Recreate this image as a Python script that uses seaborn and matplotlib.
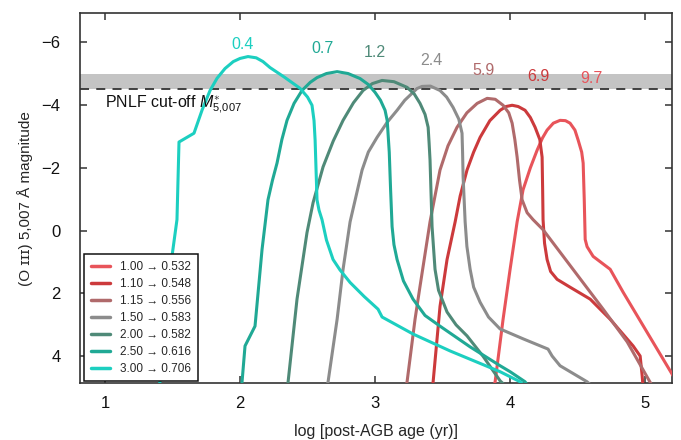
import numpy as np
import pandas as pd
import matplotlib
matplotlib.use("Agg")
import matplotlib.pyplot as plt
import seaborn as sns

# ---- data ----
labels = ["1.00 \u2192 0.532", "1.10 \u2192 0.548", "1.15 \u2192 0.556", "1.50 \u2192 0.583",
          "2.00 \u2192 0.582", "2.50 \u2192 0.616", "3.00 \u2192 0.706"]
colors = ["#e8545a", "#cc3a3c", "#b06a6b", "#8c8c8c", "#4f8a78", "#20a995", "#1ccfc0"]
top_labels = ["9.7", "6.9", "5.9", "2.4", "1.2", "0.7", "0.4"]
top_label_x = [4.60, 4.207, 3.80, 3.415, 3.00, 2.607, 2.022]
top_label_y = [-4.84, -4.91, -5.09, -5.41, -5.66, -5.79, -5.92]

x_100 = [3.875, 3.889, 3.948, 4.000, 4.052, 4.096, 4.150, 4.200, 4.240, 4.274, 4.320, 4.370, 4.410, 4.444, 4.480, 4.504, 4.530, 4.541, 4.549, 4.556, 4.570, 4.615, 4.741, 4.837, 5.207, 5.25]
y_100 = [5.0, 4.81, 2.82, 1.23, -0.28, -1.30, -2.00, -2.56, -2.95, -3.20, -3.42, -3.51, -3.50, -3.42, -3.20, -2.88, -2.50, -2.15, -1.00, 0.28, 0.51, 0.82, 1.23, 1.96, 4.62, 5.0]

x_110 = [3.420, 3.430, 3.481, 3.533, 3.593, 3.630, 3.681, 3.730, 3.778, 3.850, 3.926, 3.970, 4.015, 4.060, 4.111, 4.150, 4.185, 4.220, 4.237, 4.241, 4.244, 4.255, 4.274, 4.300, 4.348, 4.444, 4.593, 4.741, 4.911, 4.963, 4.978, 4.985]
y_110 = [5.0, 4.81, 2.41, 0.92, -0.28, -1.10, -1.93, -2.50, -2.97, -3.50, -3.83, -3.95, -3.99, -3.95, -3.83, -3.60, -3.29, -2.90, -2.34, -1.30, -0.35, 0.40, 0.92, 1.30, 1.55, 1.80, 2.18, 2.82, 3.67, 3.99, 4.62, 5.0]

x_115 = [3.225, 3.237, 3.296, 3.333, 3.407, 3.481, 3.540, 3.607, 3.680, 3.756, 3.830, 3.890, 3.948, 3.990, 4.015, 4.035, 4.052, 4.070, 4.089, 4.126, 4.170, 4.244, 4.689, 4.867, 5.052]
y_115 = [5.0, 4.81, 2.82, 1.77, -0.28, -1.93, -2.70, -3.29, -3.75, -4.05, -4.21, -4.18, -3.99, -3.75, -3.42, -2.90, -2.34, -1.60, -0.98, -0.57, -0.35, -0.03, 2.50, 3.54, 4.94]

x_150 = [2.640, 2.652, 2.719, 2.763, 2.815, 2.904, 2.950, 3.015, 3.090, 3.163, 3.220, 3.281, 3.310, 3.348, 3.410, 3.481, 3.530, 3.578, 3.620, 3.644, 3.648, 3.652, 3.667, 3.680, 3.704, 3.730, 3.778, 3.840, 3.926, 4.100, 4.281, 4.311, 4.370, 4.570, 4.62]
y_150 = [5.0, 4.81, 2.82, 1.23, -0.28, -1.93, -2.50, -2.97, -3.45, -3.83, -4.15, -4.40, -4.52, -4.59, -4.60, -4.46, -4.25, -3.92, -3.55, -3.10, -2.50, -1.71, -0.28, 0.50, 1.23, 1.80, 2.28, 2.75, 3.13, 3.45, 3.77, 3.99, 4.30, 4.81, 5.0]

x_200 = [2.350, 2.356, 2.422, 2.496, 2.541, 2.615, 2.690, 2.763, 2.840, 2.911, 2.980, 3.052, 3.140, 3.237, 3.290, 3.333, 3.370, 3.393, 3.400, 3.407, 3.422, 3.444, 3.470, 3.533, 3.600, 3.681, 3.800, 3.926, 3.98]
y_200 = [5.0, 4.81, 2.18, 0.06, -0.89, -2.03, -2.85, -3.51, -4.07, -4.46, -4.68, -4.78, -4.74, -4.56, -4.35, -4.05, -3.70, -3.29, -2.80, -2.25, -0.13, 1.23, 1.90, 2.59, 3.00, 3.35, 4.00, 4.78, 5.0]

x_250 = [2.010, 2.015, 2.037, 2.111, 2.163, 2.207, 2.240, 2.274, 2.310, 2.348, 2.400, 2.459, 2.520, 2.570, 2.640, 2.719, 2.800, 2.889, 2.950, 3.000, 3.040, 3.074, 3.090, 3.096, 3.105, 3.115, 3.126, 3.140, 3.163, 3.210, 3.281, 3.370, 3.481, 3.704, 3.926, 4.000, 4.111, 4.14]
y_250 = [5.0, 4.81, 3.67, 3.04, 0.60, -0.98, -1.60, -2.15, -2.90, -3.51, -4.05, -4.46, -4.72, -4.87, -5.00, -5.06, -5.00, -4.84, -4.65, -4.40, -4.15, -3.83, -3.50, -3.10, -2.50, -1.30, -0.13, 0.45, 0.92, 1.60, 2.18, 2.70, 3.04, 3.70, 4.30, 4.49, 4.81, 5.0]

x_300 = [1.400, 1.407, 1.496, 1.533, 1.548, 1.659, 1.720, 1.778, 1.830, 1.889, 1.950, 2.000, 2.059, 2.120, 2.170, 2.222, 2.330, 2.444, 2.500, 2.533, 2.548, 2.556, 2.570, 2.585, 2.607, 2.640, 2.689, 2.740, 2.815, 2.920, 3.022, 3.052, 3.281, 3.556, 3.926, 4.074, 4.12]
y_300 = [5.0, 4.81, 0.82, -0.35, -2.82, -3.10, -3.85, -4.46, -4.85, -5.16, -5.38, -5.48, -5.54, -5.50, -5.38, -5.19, -4.88, -4.53, -4.25, -3.99, -3.50, -2.88, -0.98, -0.65, -0.35, 0.30, 0.92, 1.25, 1.65, 2.10, 2.50, 2.75, 3.29, 3.83, 4.49, 4.81, 5.0]

xs = [x_100, x_110, x_115, x_150, x_200, x_250, x_300]
ys = [y_100, y_110, y_115, y_150, y_200, y_250, y_300]

frames = []
for lab, xv, yv in zip(labels, xs, ys):
    frames.append(pd.DataFrame({"age": xv, "mag": yv, "track": lab}))
df = pd.concat(frames, ignore_index=True)

# ---- style ----
sns.set_theme(style="ticks")
plt.rcParams["font.family"] = ["Liberation Sans", "DejaVu Sans"]
plt.rcParams["mathtext.fontset"] = "custom"
plt.rcParams["mathtext.rm"] = "Liberation Sans"
plt.rcParams["mathtext.it"] = "Liberation Sans:italic"
plt.rcParams["axes.edgecolor"] = "#333333"
plt.rcParams["xtick.color"] = "#333333"
plt.rcParams["ytick.color"] = "#333333"
plt.rcParams["xtick.labelcolor"] = "#111111"
plt.rcParams["ytick.labelcolor"] = "#111111"

fig = plt.figure(figsize=(6.81, 4.40), dpi=100)
ax = fig.add_axes([0.1175, 0.1295, 0.8695, 0.8405])

ax.axhspan(-5.0, -4.5, color="#c4c4c4", lw=0, zorder=0)
ax.axhline(-4.5, color="#333333", lw=1.3, dashes=(5, 4), zorder=1)

sns.lineplot(data=df, x="age", y="mag", hue="track", hue_order=labels,
             palette=dict(zip(labels, colors)), units="track", estimator=None,
             sort=False, lw=2.2, ax=ax, zorder=3)
for ln in ax.get_lines():
    ln.set_solid_joinstyle("round")

for t, tx, ty, c in zip(top_labels, top_label_x, top_label_y, colors):
    ax.text(tx, ty, t, color=c, fontsize=11.5, ha="center", va="center")

ax.text(1.0, -4.0, r"PNLF cut-off $M^{\ast}_{5{,}007}$", fontsize=11.5, ha="left", va="center", color="#111111")

ax.set_xlim(0.815, 5.2)
ax.set_ylim(4.85, -6.92)
ax.set_xticks([1, 2, 3, 4, 5])
ax.set_yticks([-6, -4, -2, 0, 2, 4])
ax.set_yticklabels(["\u22126", "\u22124", "\u22122", "0", "2", "4"])
ax.tick_params(direction="in", length=5, width=1.1, top=True, right=True, labelsize=12)
ax.tick_params(axis="x", pad=9)
ax.tick_params(axis="y", pad=14)
for s in ax.spines.values():
    s.set_linewidth(1.2)

ax.set_xlabel("log [post-AGB age (yr)]", fontsize=11.5, labelpad=10)
ax.set_ylabel("(O \u026a\u026a\u026a) 5,007 \u00c5 magnitude", fontsize=11, labelpad=6)

leg = ax.legend(loc="lower left", fontsize=8.5, frameon=True, fancybox=False,
                handlelength=1.6, borderpad=0.55, labelspacing=0.42, handletextpad=0.9,
                borderaxespad=0.0, bbox_to_anchor=(0.007, 0.005))
leg.get_frame().set_edgecolor("#111111")
leg.get_frame().set_linewidth(1.1)
leg.get_frame().set_alpha(1)
for h in leg.get_lines():
    h.set_linewidth(2.5)

fig.savefig("out.png", dpi=100)
